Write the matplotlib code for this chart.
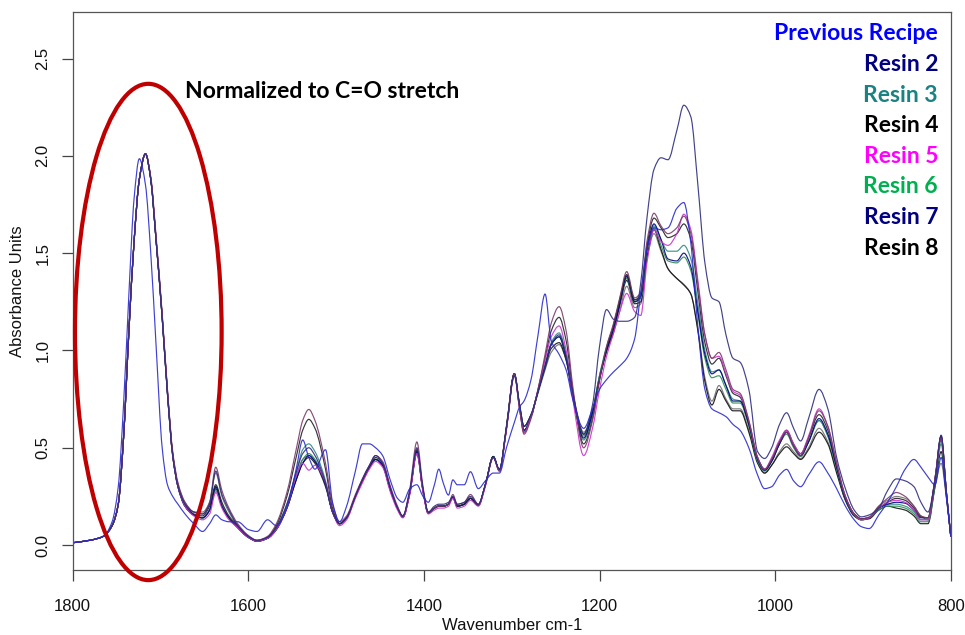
import numpy as np
import matplotlib
matplotlib.use("Agg")
import matplotlib.pyplot as plt
from matplotlib.path import Path
from matplotlib.patches import PathPatch, Ellipse

# Wavenumber knots (cm-1) shared by every spectrum, high to low
wavenumber = [
    1800, 1780, 1765, 1755, 1748, 1742, 1736, 1730, 1724, 1717,
    1711, 1705, 1698, 1692, 1686, 1680, 1672, 1662, 1652, 1644,
    1637, 1630, 1622, 1612, 1600, 1590, 1578, 1568, 1556, 1545,
    1538, 1531, 1524, 1512, 1504, 1496, 1488, 1478, 1470, 1462,
    1455, 1447, 1438, 1430, 1424, 1416, 1408, 1401, 1395, 1388,
    1383, 1378, 1372, 1367, 1362, 1354, 1347, 1338, 1330, 1321,
    1314, 1306, 1297, 1291, 1286, 1278, 1270, 1262, 1255, 1246,
    1238, 1230, 1218, 1208, 1200, 1192, 1184, 1177, 1169, 1160,
    1153, 1146, 1138, 1130, 1122, 1112, 1104, 1096, 1088, 1080,
    1072, 1064, 1056, 1048, 1040, 1030, 1020, 1012, 1004, 995,
    987, 979, 971, 962, 950, 940, 930, 920, 910, 902,
    893, 882, 872, 862, 852, 842, 834, 826, 818, 811,
    805, 800,
]

resin2 = [
    0.012, 0.025, 0.045, 0.10, 0.21, 0.55, 1.09, 1.56, 1.88, 2.01,
    1.88, 1.57, 1.17, 0.78, 0.46, 0.30, 0.20, 0.155, 0.14, 0.18,
    0.30, 0.20, 0.14, 0.09, 0.04, 0.02, 0.035, 0.08, 0.19, 0.34,
    0.42, 0.46, 0.43, 0.31, 0.17, 0.11, 0.14, 0.25, 0.33, 0.40,
    0.44, 0.41, 0.28, 0.19, 0.145, 0.27, 0.48, 0.28, 0.165, 0.19,
    0.20, 0.20, 0.21, 0.245, 0.20, 0.21, 0.24, 0.205, 0.31, 0.455,
    0.385, 0.60, 0.88, 0.71, 0.59, 0.66, 0.79, 0.92, 1.03, 1.07,
    0.96, 0.75, 0.55, 0.68, 0.85, 1.00, 1.11, 1.24, 1.38, 1.25,
    1.28, 1.52, 1.65, 1.57, 1.47, 1.46, 1.50, 1.43, 1.20, 0.98,
    0.88, 0.90, 0.82, 0.74, 0.74, 0.62, 0.44, 0.385, 0.43, 0.52,
    0.58, 0.51, 0.46, 0.53, 0.65, 0.57, 0.40, 0.24, 0.16, 0.135,
    0.14, 0.19, 0.21, 0.22, 0.215, 0.18, 0.14, 0.14, 0.34, 0.56,
    0.27, 0.045,
]

resin3 = [
    0.012, 0.025, 0.045, 0.10, 0.21, 0.55, 1.09, 1.56, 1.88, 2.01,
    1.88, 1.57, 1.17, 0.78, 0.46, 0.30, 0.20, 0.155, 0.14, 0.18,
    0.30, 0.21, 0.14, 0.09, 0.04, 0.02, 0.035, 0.09, 0.21, 0.38,
    0.49, 0.52, 0.48, 0.33, 0.17, 0.11, 0.14, 0.25, 0.33, 0.40,
    0.44, 0.41, 0.28, 0.19, 0.145, 0.27, 0.48, 0.28, 0.165, 0.19,
    0.20, 0.20, 0.21, 0.245, 0.20, 0.21, 0.24, 0.205, 0.31, 0.455,
    0.385, 0.60, 0.88, 0.71, 0.59, 0.66, 0.79, 0.92, 1.04, 1.09,
    0.98, 0.76, 0.54, 0.67, 0.87, 1.02, 1.13, 1.26, 1.385, 1.26,
    1.27, 1.52, 1.64, 1.57, 1.51, 1.51, 1.54, 1.47, 1.24, 1.00,
    0.89, 0.90, 0.82, 0.75, 0.74, 0.62, 0.44, 0.385, 0.43, 0.52,
    0.58, 0.51, 0.46, 0.53, 0.64, 0.56, 0.40, 0.24, 0.16, 0.135,
    0.14, 0.19, 0.21, 0.21, 0.20, 0.17, 0.13, 0.13, 0.33, 0.54,
    0.27, 0.045,
]

resin4 = [
    0.012, 0.025, 0.045, 0.10, 0.21, 0.55, 1.09, 1.56, 1.88, 2.01,
    1.88, 1.57, 1.18, 0.79, 0.47, 0.31, 0.21, 0.16, 0.15, 0.20,
    0.31, 0.22, 0.15, 0.10, 0.045, 0.02, 0.04, 0.10, 0.25, 0.46,
    0.59, 0.646, 0.60, 0.39, 0.19, 0.11, 0.14, 0.25, 0.33, 0.40,
    0.45, 0.42, 0.29, 0.19, 0.145, 0.27, 0.49, 0.28, 0.165, 0.19,
    0.20, 0.20, 0.21, 0.245, 0.20, 0.21, 0.24, 0.205, 0.31, 0.455,
    0.385, 0.60, 0.88, 0.70, 0.58, 0.66, 0.80, 0.96, 1.10, 1.17,
    1.05, 0.78, 0.52, 0.65, 0.85, 1.01, 1.13, 1.26, 1.39, 1.26,
    1.29, 1.54, 1.68, 1.63, 1.58, 1.60, 1.65, 1.57, 1.30, 1.04,
    0.93, 0.96, 0.87, 0.78, 0.76, 0.63, 0.45, 0.39, 0.44, 0.53,
    0.59, 0.52, 0.47, 0.55, 0.67, 0.59, 0.41, 0.25, 0.16, 0.135,
    0.14, 0.19, 0.22, 0.24, 0.23, 0.19, 0.145, 0.14, 0.34, 0.56,
    0.27, 0.045,
]

resin5 = [
    0.012, 0.025, 0.045, 0.10, 0.21, 0.55, 1.09, 1.56, 1.88, 2.01,
    1.89, 1.58, 1.18, 0.79, 0.46, 0.30, 0.20, 0.15, 0.13, 0.16,
    0.27, 0.19, 0.13, 0.09, 0.04, 0.02, 0.035, 0.08, 0.19, 0.36,
    0.42, 0.385, 0.41, 0.32, 0.17, 0.10, 0.13, 0.24, 0.32, 0.39,
    0.43, 0.40, 0.27, 0.18, 0.14, 0.26, 0.47, 0.27, 0.16, 0.18,
    0.19, 0.19, 0.20, 0.24, 0.19, 0.20, 0.23, 0.20, 0.30, 0.45,
    0.38, 0.59, 0.87, 0.70, 0.58, 0.66, 0.80, 0.95, 1.07, 1.126,
    1.00, 0.74, 0.46, 0.60, 0.80, 0.97, 1.09, 1.20, 1.293, 1.20,
    1.18, 1.45, 1.62, 1.56, 1.54, 1.60, 1.70, 1.62, 1.36, 1.08,
    0.96, 0.97, 0.88, 0.79, 0.77, 0.64, 0.45, 0.39, 0.45, 0.54,
    0.59, 0.52, 0.47, 0.56, 0.70, 0.61, 0.42, 0.25, 0.16, 0.13,
    0.14, 0.19, 0.22, 0.23, 0.22, 0.18, 0.13, 0.13, 0.34, 0.55,
    0.27, 0.045,
]

resin6 = [
    0.012, 0.025, 0.045, 0.10, 0.21, 0.55, 1.09, 1.56, 1.88, 2.01,
    1.88, 1.57, 1.17, 0.78, 0.46, 0.30, 0.20, 0.155, 0.14, 0.18,
    0.28, 0.20, 0.14, 0.09, 0.04, 0.02, 0.035, 0.08, 0.19, 0.35,
    0.44, 0.47, 0.44, 0.31, 0.17, 0.11, 0.14, 0.25, 0.33, 0.40,
    0.44, 0.41, 0.28, 0.19, 0.145, 0.27, 0.48, 0.28, 0.165, 0.19,
    0.20, 0.20, 0.21, 0.245, 0.20, 0.21, 0.24, 0.205, 0.31, 0.455,
    0.385, 0.60, 0.88, 0.71, 0.59, 0.66, 0.79, 0.92, 1.03, 1.07,
    0.96, 0.75, 0.56, 0.68, 0.86, 1.01, 1.12, 1.25, 1.37, 1.25,
    1.27, 1.51, 1.63, 1.54, 1.46, 1.45, 1.48, 1.41, 1.19, 0.96,
    0.86, 0.87, 0.80, 0.73, 0.73, 0.61, 0.43, 0.38, 0.43, 0.52,
    0.57, 0.50, 0.455, 0.53, 0.64, 0.56, 0.39, 0.24, 0.155, 0.13,
    0.14, 0.18, 0.20, 0.20, 0.19, 0.16, 0.12, 0.12, 0.31, 0.52,
    0.26, 0.045,
]

resin7 = [
    0.012, 0.025, 0.045, 0.10, 0.21, 0.55, 1.09, 1.56, 1.88, 2.01,
    1.88, 1.57, 1.17, 0.78, 0.46, 0.30, 0.21, 0.17, 0.16, 0.21,
    0.38, 0.26, 0.18, 0.10, 0.045, 0.025, 0.04, 0.09, 0.21, 0.38,
    0.47, 0.50, 0.46, 0.32, 0.17, 0.11, 0.14, 0.25, 0.34, 0.41,
    0.46, 0.42, 0.29, 0.19, 0.15, 0.28, 0.50, 0.29, 0.17, 0.20,
    0.21, 0.21, 0.22, 0.25, 0.21, 0.22, 0.25, 0.21, 0.31, 0.45,
    0.39, 0.60, 0.87, 0.72, 0.61, 0.67, 0.79, 0.92, 1.03, 1.08,
    0.97, 0.77, 0.57, 0.72, 1.02, 1.21, 1.16, 1.15, 1.15, 1.17,
    1.35, 1.68, 1.93, 1.99, 1.98, 2.13, 2.26, 2.20, 1.85, 1.45,
    1.27, 1.25, 1.08, 0.96, 0.94, 0.80, 0.48, 0.445, 0.50, 0.62,
    0.68, 0.60, 0.535, 0.65, 0.80, 0.70, 0.45, 0.29, 0.18, 0.145,
    0.155, 0.19, 0.28, 0.34, 0.33, 0.30, 0.22, 0.17, 0.33, 0.565,
    0.27, 0.045,
]

resin8 = [
    0.012, 0.025, 0.045, 0.10, 0.21, 0.55, 1.09, 1.56, 1.88, 2.01,
    1.88, 1.57, 1.17, 0.78, 0.46, 0.30, 0.20, 0.155, 0.14, 0.18,
    0.29, 0.20, 0.14, 0.09, 0.04, 0.02, 0.035, 0.08, 0.19, 0.34,
    0.42, 0.45, 0.42, 0.30, 0.17, 0.11, 0.14, 0.25, 0.33, 0.40,
    0.44, 0.41, 0.28, 0.19, 0.145, 0.27, 0.47, 0.28, 0.165, 0.19,
    0.20, 0.20, 0.21, 0.245, 0.20, 0.21, 0.24, 0.205, 0.31, 0.455,
    0.385, 0.61, 0.88, 0.72, 0.61, 0.67, 0.79, 0.91, 1.01, 1.04,
    0.95, 0.76, 0.57, 0.69, 0.87, 1.00, 1.10, 1.23, 1.36, 1.24,
    1.25, 1.48, 1.62, 1.52, 1.42, 1.37, 1.336, 1.29, 1.10, 0.84,
    0.72, 0.80, 0.74, 0.69, 0.69, 0.58, 0.42, 0.37, 0.41, 0.47,
    0.505, 0.47, 0.44, 0.49, 0.58, 0.52, 0.37, 0.23, 0.15, 0.13,
    0.135, 0.18, 0.20, 0.19, 0.18, 0.15, 0.11, 0.11, 0.30, 0.48,
    0.25, 0.045,
]

# Replicate runs shown without their own label
replicate_a = [
    0.012, 0.025, 0.045, 0.10, 0.21, 0.55, 1.09, 1.56, 1.88, 2.01,
    1.89, 1.59, 1.19, 0.80, 0.48, 0.32, 0.22, 0.17, 0.16, 0.22,
    0.40, 0.28, 0.19, 0.11, 0.05, 0.025, 0.045, 0.11, 0.27, 0.50,
    0.64, 0.697, 0.64, 0.42, 0.21, 0.12, 0.15, 0.26, 0.34, 0.41,
    0.46, 0.43, 0.30, 0.20, 0.15, 0.29, 0.53, 0.30, 0.17, 0.19,
    0.20, 0.20, 0.21, 0.26, 0.21, 0.22, 0.26, 0.21, 0.31, 0.45,
    0.38, 0.60, 0.88, 0.70, 0.57, 0.65, 0.80, 0.98, 1.14, 1.225,
    1.10, 0.80, 0.50, 0.64, 0.85, 1.02, 1.14, 1.27, 1.405, 1.27,
    1.30, 1.56, 1.705, 1.64, 1.60, 1.63, 1.69, 1.60, 1.34, 1.08,
    0.96, 0.99, 0.90, 0.80, 0.78, 0.64, 0.45, 0.39, 0.44, 0.53,
    0.58, 0.51, 0.46, 0.55, 0.69, 0.61, 0.42, 0.25, 0.16, 0.135,
    0.145, 0.20, 0.24, 0.27, 0.25, 0.20, 0.15, 0.14, 0.34, 0.55,
    0.27, 0.045,
]

replicate_b = [
    0.012, 0.025, 0.045, 0.10, 0.21, 0.55, 1.09, 1.56, 1.88, 2.01,
    1.88, 1.57, 1.17, 0.79, 0.47, 0.31, 0.22, 0.17, 0.17, 0.22,
    0.37, 0.25, 0.17, 0.10, 0.045, 0.025, 0.04, 0.09, 0.20, 0.36,
    0.44, 0.46, 0.43, 0.31, 0.17, 0.11, 0.14, 0.25, 0.33, 0.40,
    0.44, 0.41, 0.28, 0.19, 0.145, 0.27, 0.48, 0.28, 0.165, 0.19,
    0.20, 0.20, 0.21, 0.245, 0.20, 0.21, 0.24, 0.205, 0.31, 0.455,
    0.385, 0.61, 0.88, 0.72, 0.61, 0.67, 0.78, 0.90, 0.99, 1.03,
    0.95, 0.77, 0.58, 0.69, 0.86, 0.99, 1.09, 1.20, 1.33, 1.22,
    1.24, 1.47, 1.60, 1.51, 1.42, 1.37, 1.34, 1.29, 1.11, 0.86,
    0.74, 0.82, 0.75, 0.70, 0.70, 0.59, 0.43, 0.37, 0.41, 0.48,
    0.52, 0.48, 0.445, 0.50, 0.60, 0.53, 0.38, 0.23, 0.15, 0.13,
    0.14, 0.20, 0.23, 0.25, 0.24, 0.20, 0.15, 0.13, 0.30, 0.42,
    0.24, 0.045,
]

previous_recipe = [
    0.012, 0.025, 0.045, 0.12, 0.30, 0.72, 1.28, 1.78, 1.985, 1.85,
    1.50, 1.03, 0.50, 0.31, 0.25, 0.21, 0.16, 0.11, 0.07, 0.11,
    0.155, 0.13, 0.12, 0.12, 0.08, 0.07, 0.13, 0.10, 0.19, 0.40,
    0.54, 0.45, 0.39, 0.49, 0.22, 0.12, 0.20, 0.38, 0.52, 0.52,
    0.50, 0.46, 0.33, 0.24, 0.22, 0.29, 0.31, 0.25, 0.22, 0.31,
    0.39, 0.32, 0.257, 0.335, 0.31, 0.31, 0.377, 0.29, 0.33, 0.37,
    0.37, 0.50, 0.63, 0.71, 0.74, 0.85, 1.08, 1.29, 1.05, 0.98,
    0.90, 0.74, 0.60, 0.70, 0.80, 0.85, 0.89, 0.92, 0.96, 1.06,
    1.30, 1.52, 1.63, 1.62, 1.63, 1.73, 1.76, 1.55, 1.12, 0.80,
    0.70, 0.68, 0.66, 0.62, 0.59, 0.50, 0.36, 0.29, 0.30, 0.36,
    0.389, 0.33, 0.30, 0.36, 0.428, 0.37, 0.29, 0.20, 0.13, 0.095,
    0.085, 0.155, 0.22, 0.30, 0.39, 0.44, 0.40, 0.35, 0.31, 0.45,
    0.25, 0.045,
]

legend_labels = ["Previous Recipe", "Resin 2", "Resin 3", "Resin 4",
                 "Resin 5", "Resin 6", "Resin 7", "Resin 8"]
legend_colors = ["#0000ff", "#000080", "#1a8282", "#000000",
                 "#ff00ff", "#00b050", "#000080", "#000000"]

# (values, line colour) in drawing order
spectra = [
    (replicate_b, "#707070"),
    (resin8, "#111111"),
    (resin6, "#2e8b57"),
    (resin3, "#2f8a80"),
    (resin2, "#000080"),
    (resin4, "#222222"),
    (resin5, "#cc33cc"),
    (replicate_a, "#7a3a6a"),
    (resin7, "#2e2e7e"),
    (previous_recipe, "#2a2ad0"),
]

x_ticks = [1800, 1600, 1400, 1200, 1000, 800]
y_ticks = [0.0, 0.5, 1.0, 1.5, 2.0, 2.5]


def smooth_path(x, y):
    """Monotone cubic (Fritsch-Carlson) Bezier path through the knots."""
    x = np.asarray(x, float)
    y = np.asarray(y, float)
    h = np.diff(x)
    d = np.diff(y) / h
    m = np.zeros_like(y)
    m[0], m[-1] = d[0], d[-1]
    for i in range(1, len(y) - 1):
        if d[i - 1] * d[i] <= 0:
            m[i] = 0.0
        else:
            w1 = 2 * h[i] + h[i - 1]
            w2 = h[i] + 2 * h[i - 1]
            m[i] = (w1 + w2) / (w1 / d[i - 1] + w2 / d[i])
    verts = [(x[0], y[0])]
    codes = [Path.MOVETO]
    for i in range(len(h)):
        verts += [(x[i] + h[i] / 3, y[i] + m[i] * h[i] / 3),
                  (x[i + 1] - h[i] / 3, y[i + 1] - m[i + 1] * h[i] / 3),
                  (x[i + 1], y[i + 1])]
        codes += [Path.CURVE4] * 3
    return Path(verts, codes)


W, H = 965, 635
fig = plt.figure(figsize=(W / 100, H / 100), dpi=100)
ax = fig.add_axes([72.6 / W, (H - 570) / H, (950.8 - 72.6) / W, (570 - 12) / H])

for values, color in spectra:
    assert len(values) == len(wavenumber)
    ax.add_patch(PathPatch(smooth_path(wavenumber, values), fill=False,
                           edgecolor=color, lw=0.85, alpha=0.9))

ax.set_xlim(1800, 800)
ax.set_ylim(-0.128, 2.739)

tick_font = dict(family="Liberation Sans", size=12)
ax.set_xticks(x_ticks)
ax.set_xticklabels([str(t) for t in x_ticks], **tick_font)
ax.set_yticks(y_ticks)
ax.set_yticklabels([f"{t:.1f}" for t in y_ticks], rotation=90, va="center",
                   **tick_font)
ax.tick_params(axis="both", direction="out", length=8, width=0.9,
               color="#444444", labelcolor="#111111")
ax.tick_params(axis="x", pad=13)
ax.tick_params(axis="y", pad=8)
for s in ax.spines.values():
    s.set_color("#555555")
    s.set_linewidth(0.9)

fig.text(511.7 / W, 1 - 625 / H, "Wavenumber cm-1", ha="center", va="center",
         color="#111111", **tick_font)
fig.text(18 / W, 1 - 291 / H, "Absorbance Units", ha="center", va="center",
         rotation=90, color="#111111", **tick_font)

# Highlight around the carbonyl band
ax.add_patch(Ellipse((1713.8, 1.095), width=167, height=2.55, fill=False,
                     edgecolor="#c00000", lw=3.0, clip_on=False, zorder=5))

label_font = dict(family="Lato", weight="bold", size=16.5)
fig.text(185 / W, 1 - 98 / H, "Normalized to C=O stretch", ha="left",
         va="baseline", color="black", **label_font)

for i, (lab, col) in enumerate(zip(legend_labels, legend_colors)):
    fig.text(938 / W, 1 - (40.5 + 30.6 * i) / H, lab, ha="right",
             va="baseline", color=col, **label_font)

fig.savefig("out.png", dpi=100)
